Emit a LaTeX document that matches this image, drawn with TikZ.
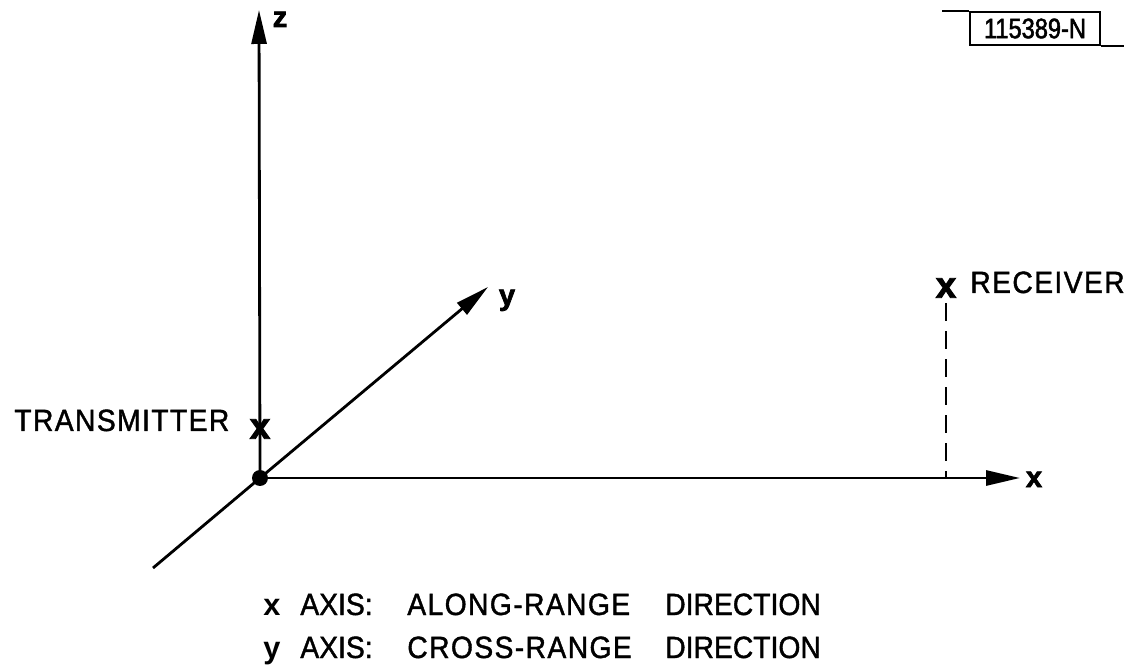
\documentclass[tikz,border=0pt]{standalone}
\usepackage{fontspec}
\setmainfont{Liberation Sans}
\newfontfamily\lettering{Liberation Sans}[FakeBold=1.3, FakeStretch=0.92]
\newfontfamily\letteringwide{Liberation Sans}[FakeBold=1.3, FakeStretch=0.92, LetterSpace=4.5]
\newfontfamily\tagfont{Liberation Sans}[FakeBold=1.8, FakeStretch=0.84]
\newfontfamily\heavy{Liberation Sans Bold}[FakeBold=2.5]
\newfontfamily\semiheavy{Liberation Sans Bold}
\usetikzlibrary{arrows.meta}
\tikzset{
  axisline/.style={line width=1.6pt, -{Triangle[length=0.68cm,width=0.3cm]}},
  plainline/.style={line width=1.6pt},
  dashline/.style={line width=1.6pt, dash pattern=on 0.36cm off 0.2cm},
  lbl/.style={font=\fontsize{17.5}{21}\lettering, inner sep=0pt},
  axlbl/.style={font=\fontsize{16.5}{20}\heavy, inner sep=0pt},
  xmark/.style={font=\fontsize{21}{25}\heavy, inner sep=0pt},
  tagbox/.style={draw, line width=1.3pt, font=\fontsize{16}{19}\tagfont, inner sep=0pt, minimum width=2.6cm, minimum height=0.66cm},
}
\begin{document}
\begin{tikzpicture}[x=0.02cm, y=-0.02cm]
\useasboundingbox (0,0) rectangle (1130,672);
% origin
\node[circle, fill=black, inner sep=0pt, minimum size=0.32cm] (O) at (260,478) {};
\coordinate (zt) at (259,10);
\coordinate (xt) at (1020,478);
\coordinate (yt) at (488,287);
\coordinate (yb) at (153,568);
% axes
\draw[axisline] (O.center) -- (zt);
\draw[axisline] (O.center) -- (xt);
\draw[plainline] (yb) -- (O.center);
\draw[axisline] (O.center) -- (yt);
% axis letters
\node[axlbl, anchor=base] (zl) at (280,27) {z};
\node[axlbl, anchor=base] (yl) at (507,305) {y};
\node[axlbl, anchor=base] (xl) at (1034,487) {x};
% transmitter
\node[xmark] (tx) at (260,429) {x};
\node[lbl, anchor=base west, font=\fontsize{17.5}{21}\letteringwide] (txl) at (14,431) {TRANSMITTER};
% receiver
\node[xmark] (rx) at (946,288) {x};
\node[lbl, anchor=base west, font=\fontsize{17.5}{21}\letteringwide] (rxl) at (970,293) {RECEIVER};
\draw[dashline] ([yshift=-0.1cm]rx.south) -- (rx |- O);
% tag
\node[tagbox] (tag) at (1035,28.5) {115389-N};
\draw[line width=1.3pt] (tag.north west) -- ++(-27,0);
\draw[line width=1.3pt] (tag.south east) -- ++(23,0);
% legend
\node[lbl, anchor=base west] (l1) at (263,615) {\makebox[0.74cm][l]{\semiheavy x}\makebox[2.14cm][l]{AXIS:}\makebox[5.16cm][l]{\letteringwide ALONG-RANGE}DIRECTION};
\node[lbl, anchor=base west] (l2) at (263,658) {\makebox[0.74cm][l]{\semiheavy y}\makebox[2.14cm][l]{AXIS:}\makebox[5.16cm][l]{\letteringwide CROSS-RANGE}DIRECTION};
\end{tikzpicture}
\end{document}
